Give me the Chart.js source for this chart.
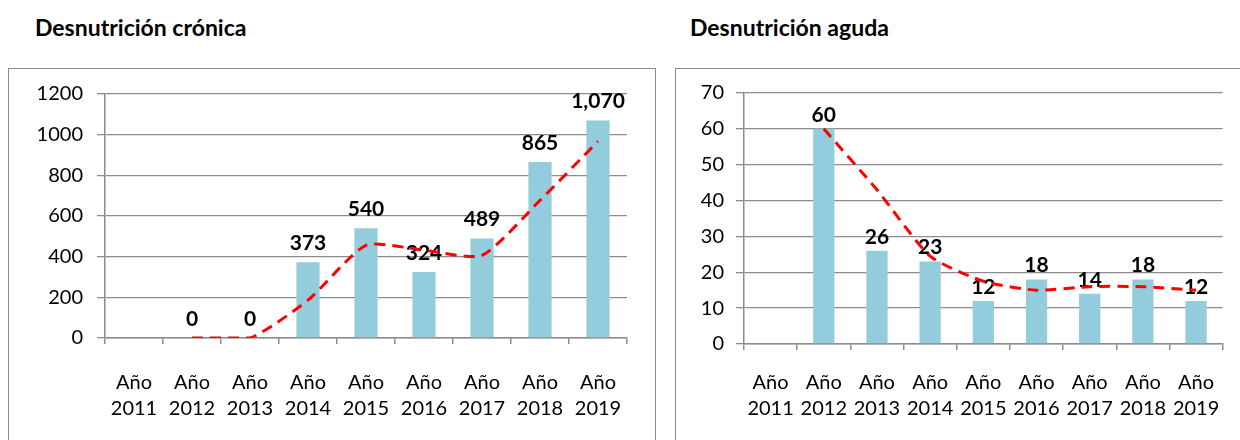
<!DOCTYPE html>
<html>
<head>
<meta charset="utf-8">
<script src="https://cdn.jsdelivr.net/npm/chart.js@4/dist/chart.umd.min.js"></script>
<style>
	body { margin: 0; background: #fff; width: 1240px; height: 440px; overflow: hidden; position: relative; font-family: Lato, sans-serif; }
	.title { position: absolute; top: 13px; font-weight: bold; font-size: 23px; color: #000; }
	.box { position: absolute; top: 68px; height: 400px; border: 1.5px solid #8a8a8a; }
	canvas { position: absolute; top: 0; }
</style>
</head>
<body>
<div class="title" style="left:35px">Desnutrición crónica</div>
<div class="title" style="left:690px">Desnutrición aguda</div>
<div class="box" style="left:8px; width:646px"></div>
<div class="box" style="left:675px; width:600px"></div>
<canvas id="chart-cronica" width="660" height="440" style="left:0; width:660px; height:440px"></canvas>
<canvas id="chart-aguda" width="580" height="440" style="left:660px; width:580px; height:440px"></canvas>
<script>
const years = ["2011", "2012", "2013", "2014", "2015", "2016", "2017", "2018", "2019"];
const cronicaValues = [null, 0, 0, 373, 540, 324, 489, 865, 1070];
const cronicaTrend = [null, 0, 0, 186, 456, 432, 406, 677, 967];
const cronicaTicks = { max: 1200, step: 200 };
const agudaValues = [null, 60, 26, 23, 12, 18, 14, 18, 12];
const agudaTrend = [null, 60, 43, 24.5, 17.5, 15, 16, 16, 15];
const agudaTicks = { max: 70, step: 10 };

const barColor = "#93CDDD";
const gridColor = "#8c8c8c";
const labelFont = { family: "Lato", size: 20 };

// bold value labels above each bar, drawn before the trend line
const barLabels = {
	id: "barLabels",
	afterDatasetDraw(chart, args, opts) {
		if (args.index !== 0) return;
		const ctx = chart.ctx;
		const meta = chart.getDatasetMeta(0);
		ctx.save();
		ctx.font = "bold 21px Lato";
		ctx.fillStyle = "#000";
		ctx.textAlign = "center";
		ctx.textBaseline = "middle";
		meta.data.forEach((bar, i) => {
			const v = chart.data.datasets[0].data[i];
			if (v === null || v === undefined) return;
			ctx.fillText(v.toLocaleString("en-US"), bar.x, bar.y - opts.offset);
		});
		ctx.restore();
	},
};

function renderChart(id, values, trend, ticks, area) {
	return new Chart(document.getElementById(id), {
		type: "bar",
		data: {
			labels: years.map((y) => ["Año", y]),
			datasets: [
				{
					data: values,
					backgroundColor: barColor,
					barPercentage: 0.4,
					categoryPercentage: 1,
					order: 1,
				},
				{
					type: "line",
					data: trend,
					borderColor: "#ff0000",
					borderWidth: 3,
					borderDash: [11, 7],
					pointRadius: 0,
					tension: 0.2,
					fill: false,
					order: 0,
				},
			],
		},
		options: {
			responsive: false,
			animation: false,
			layout: { padding: { top: area.top, right: area.right, left: 0, bottom: 0 } },
			plugins: {
				legend: { display: false },
				tooltip: { enabled: false },
				barLabels: { offset: area.labelOffset },
			},
			scales: {
				x: {
					grid: { offset: true, drawOnChartArea: false, tickLength: 6, color: gridColor, lineWidth: 1.5 },
					border: { color: gridColor, width: 1.5 },
					ticks: { font: { ...labelFont, lineHeight: 1.3 }, color: "#000", padding: area.xPad, maxRotation: 0 },
					afterFit: (scale) => { scale.height = area.xHeight; },
				},
				y: {
					min: 0,
					max: ticks.max,
					grid: { color: gridColor, lineWidth: 1.3, tickLength: 8 },
					border: { color: gridColor, width: 1.5 },
					ticks: { stepSize: ticks.step, font: labelFont, color: "#000", padding: area.yPad, callback: (v) => String(v) },
					afterFit: (scale) => { scale.width = area.yWidth; },
				},
			},
		},
		plugins: [barLabels],
	});
}

renderChart("chart-cronica", cronicaValues, cronicaTrend, cronicaTicks, {
	top: 94, right: 33, yWidth: 105, xHeight: 102, xPad: 26, yPad: 14, labelOffset: 19,
});
renderChart("chart-aguda", agudaValues, agudaTrend, agudaTicks, {
	top: 93, right: 13, yWidth: 84, xHeight: 96, xPad: 20, yPad: 12, labelOffset: 14,
});
</script>
</body>
</html>
